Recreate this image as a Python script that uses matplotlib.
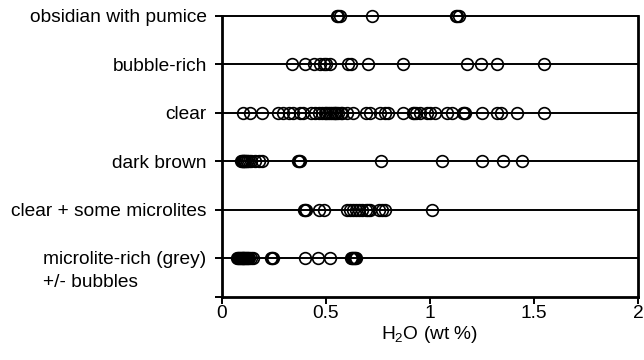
import matplotlib
matplotlib.use('Agg')
import matplotlib.pyplot as plt

plt.rcParams['font.family'] = ['Liberation Sans', 'DejaVu Sans']
plt.rcParams['mathtext.fontset'] = 'custom'
plt.rcParams['mathtext.rm'] = 'Liberation Sans'
plt.rcParams['mathtext.it'] = 'Liberation Sans:italic'

# --- Data: H2O (wt %) per obsidian type ---
categories = ['obsidian with pumice', 'bubble-rich', 'clear', 'dark brown',
              'clear + some microlites', 'microlite-rich (grey)']
last_label_extra = '+/- bubbles'

obsidian_pumice = [0.555, 0.56, 0.565, 0.72, 1.125, 1.13, 1.14]

bubble_rich = [0.335, 0.40, 0.44, 0.47, 0.49, 0.50, 0.52, 0.605, 0.62,
               0.70, 0.87, 1.18, 1.245, 1.32, 1.55]

clear = [0.10, 0.135, 0.19, 0.27, 0.295, 0.32, 0.34, 0.375, 0.39, 0.43,
         0.445, 0.465, 0.48, 0.495, 0.50, 0.51, 0.52, 0.53, 0.54, 0.545,
         0.55, 0.56, 0.57, 0.575, 0.60, 0.63, 0.69, 0.71, 0.76, 0.785,
         0.80, 0.87, 0.92, 0.925, 0.935, 0.95, 0.985, 1.00, 1.025, 1.08,
         1.105, 1.16, 1.165, 1.17, 1.25, 1.32, 1.34, 1.42, 1.55]

dark_brown = [0.09, 0.095, 0.10, 0.10, 0.105, 0.11, 0.11, 0.12, 0.12,
              0.13, 0.14, 0.16, 0.18, 0.19, 0.365, 0.37, 0.375,
              0.765, 1.06, 1.25, 1.35, 1.44]

clear_microlites = [0.395, 0.40, 0.405, 0.465, 0.49, 0.60, 0.615, 0.63,
                    0.645, 0.66, 0.675, 0.69, 0.70, 0.71, 0.755, 0.77,
                    0.785, 1.01]

microlite_rich = [0.07, 0.075, 0.08, 0.085, 0.09, 0.095, 0.10, 0.10,
                  0.105, 0.11, 0.115, 0.12, 0.125, 0.13, 0.14, 0.15,
                  0.235, 0.24, 0.245, 0.40, 0.46, 0.52,
                  0.62, 0.625, 0.63, 0.635, 0.64, 0.645]

series = [obsidian_pumice, bubble_rich, clear, dark_brown,
          clear_microlites, microlite_rich]
row_pos = [6, 5, 4, 3, 2, 1]

x_ticks = [0, 0.5, 1, 1.5, 2]
x_tick_labels = ['0', '0.5', '1', '1.5', '2']

FS = 13.8

# --- Plot ---
fig = plt.figure(figsize=(6.44, 3.6), dpi=100)
ax = fig.add_axes([0.3447, 0.175, 0.9907 - 0.3447, 0.9556 - 0.175])

ylow = 0.194
for y, vals in zip(row_pos, series):
    ax.axhline(y, color='black', linewidth=1.4, zorder=1, clip_on=False)
    ax.plot(vals, [y] * len(vals), linestyle='none', marker='o',
            markersize=8.4, markerfacecolor='none', markeredgecolor='black',
            markeredgewidth=1.2, zorder=2, clip_on=False)

ax.set_xlim(0, 2)
ax.set_ylim(ylow, 6)

ax.set_xticks(x_ticks)
ax.set_xticklabels(x_tick_labels)
ax.set_yticks(row_pos + [ylow])
ax.set_yticklabels(categories + [''])

ax.tick_params(axis='y', direction='out', length=5, width=1.4, pad=6,
               labelsize=FS)
ax.tick_params(axis='x', direction='out', length=5, width=1.4, pad=1,
               labelsize=FS)

for side in ['left', 'right', 'bottom']:
    ax.spines[side].set_linewidth(2)
ax.spines['top'].set_visible(False)

ax.set_xlabel(r'H$_2$O (wt %)', fontsize=FS, labelpad=1)

# second line of the last category label, left-aligned under the first line
fig.canvas.draw()
last = ax.get_yticklabels()[len(categories) - 1]
bb = last.get_window_extent()
x0, _ = fig.transFigure.inverted().transform((bb.x0, bb.y0))
_, yrow = fig.transFigure.inverted().transform(ax.transData.transform((0, row_pos[-1])))
fig.text(x0, yrow - 0.062, last_label_extra, fontsize=FS,
         ha='left', va='center_baseline')

plt.savefig('out.png', dpi=100)
